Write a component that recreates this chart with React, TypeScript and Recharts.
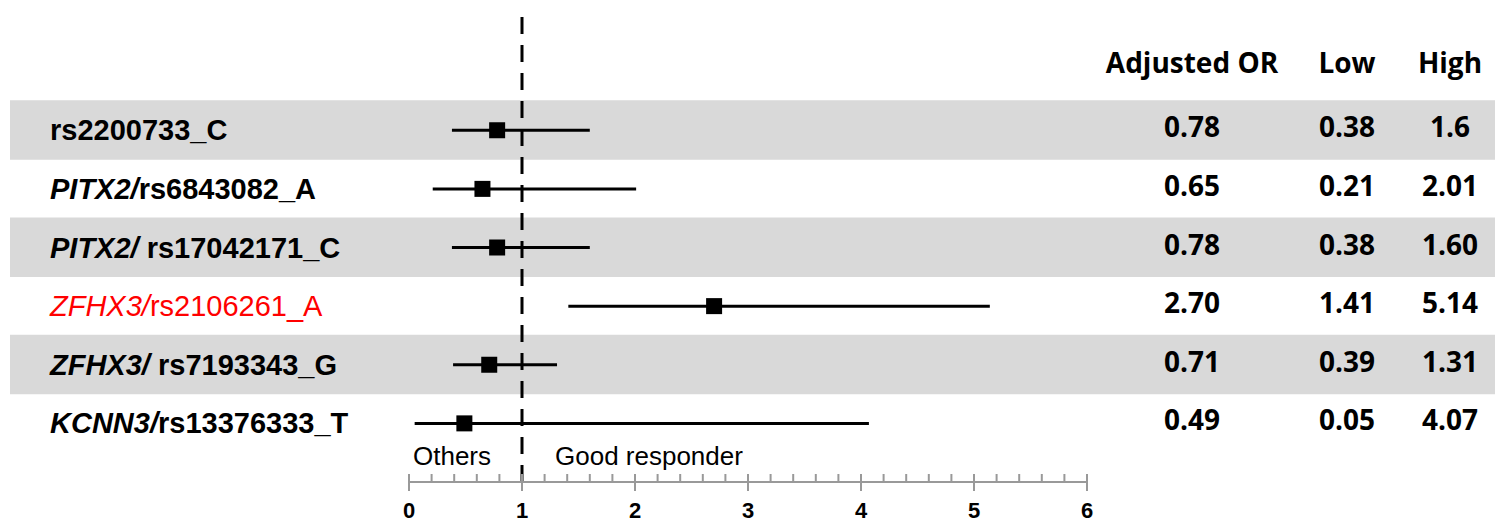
import React from 'react';
import {
  ComposedChart,
  Scatter,
  XAxis,
  YAxis,
  ReferenceLine,
  ErrorBar,
  Customized,
} from 'recharts';

// Variant labels: italic gene prefix + SNP id
const geneParts = ['', 'PITX2/', 'PITX2/ ', 'ZFHX3/', 'ZFHX3/ ', 'KCNN3/'];
const snpParts = [
  'rs2200733_C',
  'rs6843082_A',
  'rs17042171_C',
  'rs2106261_A',
  'rs7193343_G',
  'rs13376333_T',
];

// Adjusted odds ratios with 95% CI bounds, as printed in the table
const orText = ['0.78', '0.65', '0.78', '2.70', '0.71', '0.49'];
const lowText = ['0.38', '0.21', '0.38', '1.41', '0.39', '0.05'];
const highText = ['1.6', '2.01', '1.60', '5.14', '1.31', '4.07'];

// Row shown in red (significant)
const highlightRow = 3;

// Axis ticks
const majorTicks = [0, 1, 2, 3, 4, 5, 6];
const minorPerMajor = 5;

const columnHeaders = ['Adjusted OR', 'Low', 'High'];
const leftNote = 'Others';
const rightNote = 'Good responder';

const rows = snpParts.map((snp, i) => {
  const or = Number(orText[i]);
  const low = Number(lowText[i]);
  const high = Number(highText[i]);
  return {
    row: i,
    or,
    low,
    high,
    err: [or - low, high - or],
    gene: geneParts[i],
    snp,
    orLabel: orText[i],
    lowLabel: lowText[i],
    highLabel: highText[i],
  };
});
const shadedRows = rows.filter((r) => r.row % 2 === 0);

const allTicks: number[] = [];
majorTicks.forEach((t, i) => {
  allTicks.push(t);
  if (i < majorTicks.length - 1) {
    for (let k = 1; k < minorPerMajor; k++) {
      allTicks.push(Math.round((t + k / minorPerMajor) * 1000) / 1000);
    }
  }
});

const W = 1495;
const H = 528;
const colX = [1192, 1347, 1450];
const labelFont = "'Liberation Sans', Arial, sans-serif";
const tableFont = "'Open Sans', 'DejaVu Sans', sans-serif";

const BandShape = (p: any) => (
  <rect x={10} y={p.cy - 30} width={W - 10} height={59.5} fill="#d9d9d9" />
);

const SquareShape = (p: any) => (
  <rect x={p.cx - 8} y={p.cy - 8} width={16} height={16} fill="#000" />
);

const RowTextShape = (p: any) => {
  const d = p.payload;
  const red = d.row === highlightRow;
  const color = red ? '#ff0000' : '#000';
  return (
    <g>
      <text
        x={50}
        y={p.cy + 10}
        fontFamily={labelFont}
        fontSize={29}
        fontWeight={red ? 400 : 700}
        fill={color}
        style={{ whiteSpace: 'pre' }}
      >
        {d.gene ? <tspan fontStyle="italic">{d.gene}</tspan> : null}
        <tspan>{d.snp}</tspan>
      </text>
      {[d.orLabel, d.lowLabel, d.highLabel].map((t: string, k: number) => (
        <text
          key={k}
          x={colX[k]}
          y={p.cy + 7}
          textAnchor="middle"
          fontFamily={tableFont}
          fontSize={28}
          fontWeight={700}
          fill="#000"
        >
          {t}
        </text>
      ))}
    </g>
  );
};

const AxisTick = (p: any) => {
  const v = p.payload.value;
  const isMajor = Math.abs(v - Math.round(v)) < 1e-6;
  return (
    <g>
      <line
        x1={p.x}
        x2={p.x}
        y1={p.y - 8}
        y2={isMajor ? p.y + 9 : p.y}
        stroke="#999"
        strokeWidth={2}
      />
      {isMajor ? (
        <text
          x={p.x}
          y={p.y + 36}
          textAnchor="middle"
          fontFamily={labelFont}
          fontSize={22}
          fontWeight={700}
          fill="#000"
        >
          {Math.round(v)}
        </text>
      ) : null}
    </g>
  );
};

const Annotations = () => (
  <g>
    {columnHeaders.map((h, k) => (
      <text
        key={h}
        x={colX[k]}
        y={73}
        textAnchor="middle"
        fontFamily={tableFont}
        fontSize={28}
        fontWeight={700}
        fill="#000"
      >
        {h}
      </text>
    ))}
    <text x={413} y={465} fontFamily={labelFont} fontSize={26} fill="#000">
      {leftNote}
    </text>
    <text x={555} y={465} fontFamily={labelFont} fontSize={26} fill="#000">
      {rightNote}
    </text>
  </g>
);

export default function App() {
  return (
    <div style={{ position: 'absolute', left: 0, top: 0, width: W, height: H, background: '#fff' }}>
      <ComposedChart
        width={W}
        height={H}
        data={rows}
        margin={{ top: 13, right: 408, bottom: 0, left: 409 }}
      >
        <XAxis
          type="number"
          dataKey="or"
          domain={[0, 6]}
          ticks={allTicks}
          interval={0}
          tickLine={false}
          tickSize={0}
          tickMargin={0}
          height={46}
          axisLine={{ stroke: '#999', strokeWidth: 2 }}
          tick={<AxisTick />}
        />
        <YAxis type="number" dataKey="row" domain={[-2, 6]} reversed hide width={0} />
        <Scatter
          data={shadedRows}
          shape={<BandShape />}
          isAnimationActive={false}
          zIndex={-50}
        />
        <ReferenceLine x={1} stroke="#000" strokeWidth={3} strokeDasharray="17 11" />
        <Scatter data={rows} shape={<SquareShape />} isAnimationActive={false}>
          <ErrorBar
            dataKey="err"
            direction="x"
            width={0}
            stroke="#000"
            strokeWidth={3}
            isAnimationActive={false}
          />
        </Scatter>
        <Scatter data={rows} shape={<RowTextShape />} isAnimationActive={false} />
        <Customized component={Annotations} />
      </ComposedChart>
    </div>
  );
}
